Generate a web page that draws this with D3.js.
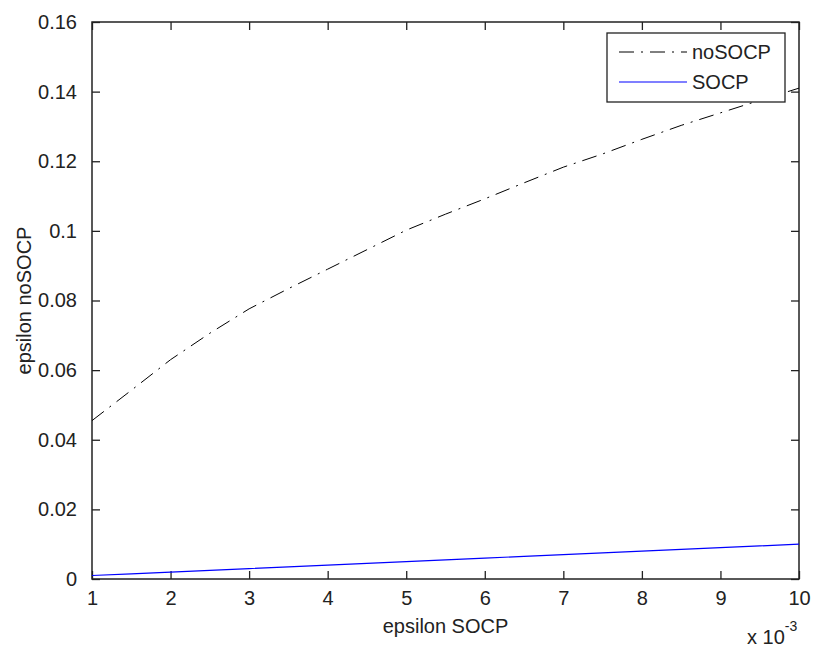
<!DOCTYPE html>
<html>
<head>
<meta charset="utf-8">
<script src="https://cdn.jsdelivr.net/npm/d3@7"></script>
<style>
  body { margin: 0; background: #fff; }
  text { font-family: Arial, "Liberation Sans", sans-serif; fill: #222; }
</style>
</head>
<body>
<svg id="chart" width="814" height="649"></svg>
<script>
// values (x in units of 1, shown as x 10^-3)
var epsSOCP   = [1, 1.5, 2, 2.5, 3, 3.5, 4, 4.5, 5, 5.5, 6, 6.5, 7, 7.5, 8, 8.5, 9, 9.5, 10];
var noSOCP    = [0.0455, 0.0542, 0.0630, 0.0706, 0.0776, 0.0834, 0.0890, 0.0946, 0.1002, 0.1048,
                 0.1092, 0.1138, 0.1183, 0.1221, 0.1263, 0.1303, 0.1339, 0.1375, 0.1410];
var socp      = [0.0010, 0.0015, 0.0020, 0.0025, 0.0030, 0.0035, 0.0040, 0.0045, 0.0050, 0.0055,
                 0.0060, 0.0065, 0.0070, 0.0075, 0.0080, 0.0085, 0.0090, 0.0095, 0.0100];
var xTicks    = [1, 2, 3, 4, 5, 6, 7, 8, 9, 10];
var yTicks    = [0, 0.02, 0.04, 0.06, 0.08, 0.1, 0.12, 0.14, 0.16];
var seriesNames = ["noSOCP", "SOCP"];

var margin = {top: 22, right: 15, bottom: 70, left: 92},
    width = 814 - margin.left - margin.right,
    height = 649 - margin.top - margin.bottom;

var svg = d3.select("#chart");
var g = svg.append("g")
    .attr("transform", "translate(" + margin.left + "," + margin.top + ")");

var x = d3.scaleLinear().domain([1, 10]).range([0, width]);
var y = d3.scaleLinear().domain([0, 0.16]).range([height, 0]);

var tickLen = 8;

// axes: inward ticks on all four sides
var xAxisB = d3.axisBottom(x).tickValues(xTicks).tickSizeInner(-tickLen).tickSizeOuter(0)
    .tickPadding(tickLen + 4).tickFormat(d3.format("d"));
var xAxisT = d3.axisTop(x).tickValues(xTicks).tickSizeInner(-tickLen).tickSizeOuter(0).tickFormat("");
var yAxisL = d3.axisLeft(y).tickValues(yTicks).tickSizeInner(-tickLen).tickSizeOuter(0)
    .tickPadding(tickLen + 7).tickFormat(function(d) { return d === 0 ? "0" : String(+d.toFixed(2)); });
var yAxisR = d3.axisRight(y).tickValues(yTicks).tickSizeInner(-tickLen).tickSizeOuter(0).tickFormat("");

function styleAxis(sel) {
  sel.selectAll("path").remove();
  sel.selectAll("line").attr("stroke", "#222").attr("stroke-width", 1.3);
  sel.selectAll("text").style("font-size", "20px").attr("fill", "#222")
     .style("font-family", "Arial, 'Liberation Sans', sans-serif");
}

g.append("g").attr("transform", "translate(0," + height + ")").call(xAxisB).call(styleAxis);
g.append("g").call(xAxisT).call(styleAxis);
g.append("g").call(yAxisL).call(styleAxis);
g.append("g").attr("transform", "translate(" + width + ",0)").call(yAxisR).call(styleAxis);

// box
g.append("rect")
    .attr("width", width).attr("height", height)
    .attr("fill", "none").attr("stroke", "#222").attr("stroke-width", 1.5);

// lines
var line = d3.line()
    .x(function(d) { return x(d[0]); })
    .y(function(d) { return y(d[1]); });

g.append("path")
    .datum(d3.zip(epsSOCP, noSOCP))
    .attr("d", line)
    .attr("fill", "none")
    .attr("stroke", "#000")
    .attr("stroke-width", 1)
    .attr("stroke-dasharray", "15,7,2,7");

g.append("path")
    .datum(d3.zip(epsSOCP, socp))
    .attr("d", line)
    .attr("fill", "none")
    .attr("stroke", "#0000ff")
    .attr("stroke-width", 1.2);

// legend
var legend = svg.append("g").attr("transform", "translate(607,33)");
legend.append("rect")
    .attr("width", 178).attr("height", 69)
    .attr("fill", "#fff").attr("stroke", "#222").attr("stroke-width", 1.3);

var legendStyles = [
  {stroke: "#000", dash: "15,7,2,7"},
  {stroke: "#0000ff", dash: null}
];
seriesNames.forEach(function(name, i) {
  var yy = 19 + i * 30;
  legend.append("line")
      .attr("x1", 12).attr("x2", 80).attr("y1", yy).attr("y2", yy)
      .attr("stroke", legendStyles[i].stroke)
      .attr("stroke-width", i === 0 ? 1 : 1.2)
      .attr("stroke-dasharray", legendStyles[i].dash);
  legend.append("text")
      .attr("x", 85).attr("y", yy + 7)
      .style("font-size", "20px")
      .text(name);
});

// axis labels
svg.append("text")
    .attr("x", margin.left + width / 2).attr("y", 633)
    .attr("text-anchor", "middle")
    .style("font-size", "20px")
    .text("epsilon SOCP");

svg.append("text")
    .attr("transform", "translate(31," + (margin.top + height / 2) + ") rotate(-90)")
    .attr("text-anchor", "middle")
    .style("font-size", "20px")
    .text("epsilon noSOCP");

// x10^-3 multiplier
var mult = svg.append("text").attr("x", 747).attr("y", 644).style("font-size", "20px");
mult.append("tspan").text("x 10");
mult.append("tspan").attr("dy", -13).style("font-size", "14px").text("-3");
</script>
</body>
</html>
